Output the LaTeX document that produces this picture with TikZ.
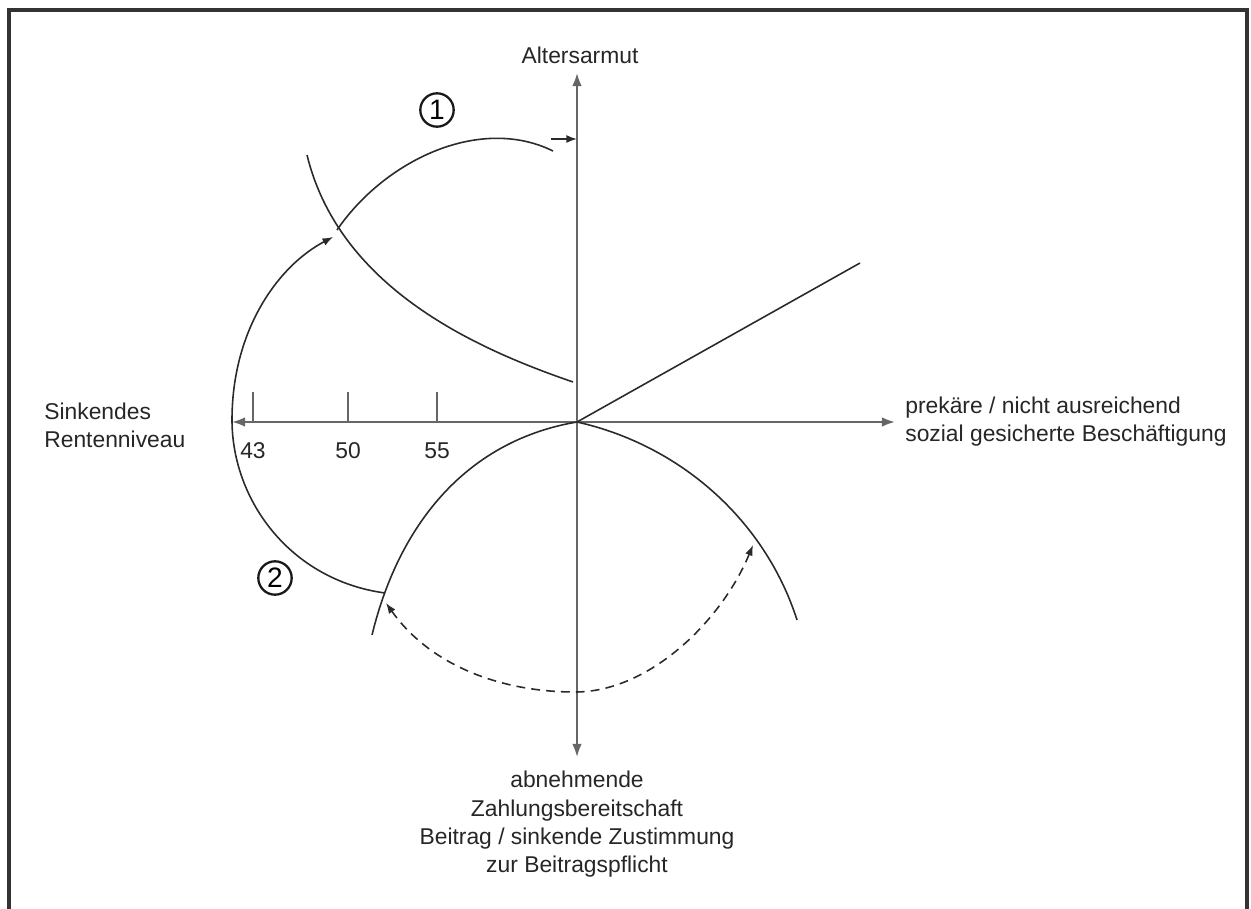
\documentclass[tikz,border=0pt]{standalone}
\usepackage{fontspec}
\setmainfont{Liberation Sans}
\usetikzlibrary{positioning, arrows.meta, calc}
\definecolor{achsgrau}{HTML}{666666}
\definecolor{linie}{HTML}{2A2A2A}

\begin{document}
\begin{tikzpicture}[x=0.02cm, y=-0.02cm,
    achse/.style={draw=achsgrau, line width=1.2pt, {Latex[length=7.5pt,width=5.5pt]}-{Latex[length=7.5pt,width=5.5pt]}},
    kurve/.style={draw=linie, line width=0.9pt},
    pfeil/.style={kurve, -{Latex[length=6pt,width=4.5pt]}},
    etikett/.style={font=\fontsize{13}{16}\selectfont, text=black!85, inner sep=0pt},
    nummer/.style={circle, draw=black!90, line width=1.3pt, font=\fontsize{16}{16}\selectfont, inner sep=0pt, minimum size=19pt}]
  \useasboundingbox (0,0) rectangle (1251,909);
  \draw[line width=1.8pt, draw=black!80] (9,909) -- (9,10) -- (1247,10) -- (1247,909);

  \coordinate (O) at (577,422);
  \coordinate (oben) at (577,73);
  \coordinate (unten) at (577,757);
  \coordinate (links) at (232,422);
  \coordinate (rechts) at (895,422);
  \draw[achse] (unten) -- (oben);
  \draw[achse] (links) -- (rechts);

  \foreach \x/\w in {253/43, 348/50, 437/55} {
    \draw[draw=achsgrau, line width=0.9pt] (\x,422) -- (\x,392);
    \node[etikett] at (\x,451) {\w};
  }

  \node[etikett] (alter) at (580,55) {Altersarmut};
  \node[etikett, anchor=west, align=left] (rente) at (44,425) {Sinkendes\\Rentenniveau};
  \node[etikett, anchor=west, align=left] (prekaer) at (905,422) {prekäre / nicht ausreichend\\sozial gesicherte Beschäftigung};
  \node[etikett, anchor=north, align=center] (zahlung) at (577,771) {abnehmende\\Zahlungsbereitschaft\\Beitrag / sinkende Zustimmung\\zur Beitragspflicht};

  \coordinate (a1) at (307,155);
  \coordinate (a2) at (573,382);
  \coordinate (b2) at (797,620);
  \coordinate (c2) at (372,635);
  \coordinate (rechtsoben) at (860,263);
  \draw[kurve] (O) -- (rechtsoben);
  \draw[kurve] (a1) .. controls (340,290) and (480,350) .. (a2);
  \draw[kurve] (O) .. controls (680,445) and (765,520) .. (b2);
  \draw[kurve] (O) .. controls (470,440) and (400,520) .. (c2);

  \coordinate (kreuz) at (337,230);
  \coordinate (start2) at (385,593);
  \coordinate (ende1) at (553,151);
  \draw[pfeil] (start2) .. controls (290,580) and (232,500) .. (232,420)
    .. controls (232,330) and (278,266) .. (333,237);
  \draw[kurve] (kreuz) .. controls (385,160) and (480,115) .. (ende1);
  \coordinate (p1) at (551,139);
  \coordinate (p2) at (577,139);
  \draw[pfeil] (p1) -- (p2);

  \coordinate (d1) at (386,603);
  \coordinate (d2) at (753,545);
  \draw[kurve, dashed, dash pattern=on 5pt off 3.5pt, {Latex[length=6pt,width=4.5pt]}-{Latex[length=6pt,width=4.5pt]}]
    (d1) .. controls (430,665) and (500,692) .. (575,692)
    .. controls (650,692) and (722,620) .. (d2);

  \node[nummer] (eins) at (437,110) {1};
  \node[nummer] (zwei) at (275,578) {2};
\end{tikzpicture}
\end{document}
